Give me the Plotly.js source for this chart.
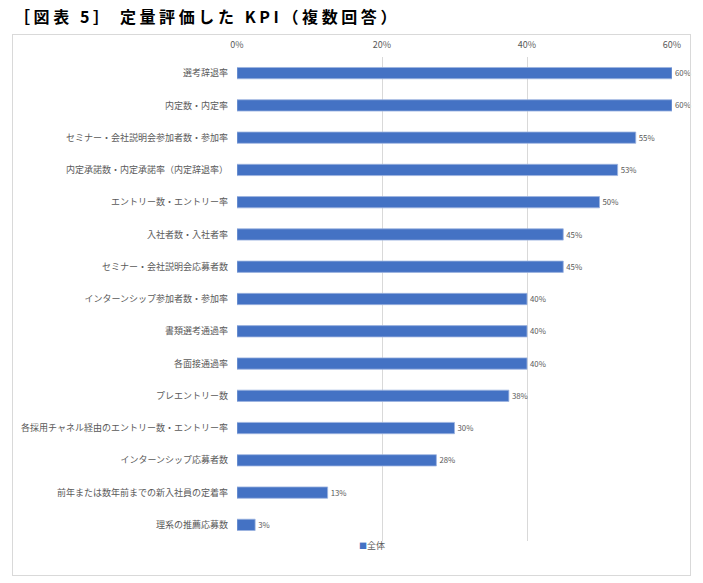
<!DOCTYPE html>
<html>
<head>
<meta charset="utf-8">
<script src="https://cdn.plot.ly/plotly-3.0.1.min.js"></script>
<style>
  html, body { margin: 0; padding: 0; background: #ffffff; }
  #chart { position: absolute; left: 0; top: 0; width: 703px; height: 583px; }
  #frame { position: absolute; left: 12px; top: 34px; width: 677px; height: 540px;
           border: 1px solid #d9d9d9; pointer-events: none; }
  .gtitle { letter-spacing: 3.6px; }
</style>
</head>
<body>
<div id="chart"></div>
<div id="frame"></div>
<script>
const categories = [
  "選考辞退率",
  "内定数・内定率",
  "セミナー・会社説明会参加者数・参加率",
  "内定承諾数・内定承諾率（内定辞退率）",
  "エントリー数・エントリー率",
  "入社者数・入社者率",
  "セミナー・会社説明会応募者数",
  "インターンシップ参加者数・参加率",
  "書類選考通過率",
  "各面接通過率",
  "プレエントリー数",
  "各採用チャネル経由のエントリー数・エントリー率",
  "インターンシップ応募者数",
  "前年または数年前までの新入社員の定着率",
  "理系の推薦応募数"
];
const values = [60, 60, 55, 52.5, 50, 45, 45, 40, 40, 40, 37.5, 30, 27.5, 12.5, 2.5];
const valueLabels = ["60%", "60%", "55%", "53%", "50%", "45%", "45%", "40%", "40%", "40%", "38%", "30%", "28%", "13%", "3%"];
const seriesName = "全体";
const xTicks = [0, 20, 40, 60];
const xTickLabels = ["0%", "20%", "40%", "60%"];
const titleText = "［図表 5］ 定量評価した KPI（複数回答）";

const font = "'Noto Sans CJK JP', 'Noto Sans', sans-serif";
const barColor = "#4472c4";

const trace = {
  type: "bar",
  orientation: "h",
  name: seriesName,
  x: values,
  y: categories,
  text: valueLabels,
  textposition: "outside",
  cliponaxis: false,
  textfont: { family: font, size: 9, color: "#595959" },
  marker: { color: barColor, line: { color: "#9db4e0", width: 0.8 } },
  hoverinfo: "x+y",
  showlegend: false
};

const layout = {
  width: 703,
  height: 583,
  margin: { l: 237, r: 31, t: 57, b: 42, pad: 0 },
  paper_bgcolor: "rgba(0,0,0,0)",
  plot_bgcolor: "rgba(0,0,0,0)",
  font: { family: font, size: 9, color: "#595959" },
  title: {
    text: "<b>" + titleText + "</b>",
    font: { family: font, size: 16, color: "#000000" },
    x: 14 / 703, xref: "container", xanchor: "left",
    y: 1 - 17 / 583, yref: "container", yanchor: "middle"
  },
  bargap: 0.65,
  xaxis: {
    side: "top",
    range: [0, 60],
    tickvals: xTicks,
    ticktext: xTickLabels,
    showgrid: true,
    gridcolor: "#d9d9d9",
    gridwidth: 1,
    zeroline: false,
    showline: false,
    ticks: "",
    ticklabelstandoff: 6,
    tickfont: { family: font, size: 9, color: "#595959" },
    fixedrange: true
  },
  yaxis: {
    type: "category",
    autorange: "reversed",
    showgrid: false,
    zeroline: false,
    showline: false,
    ticks: "",
    ticklabelstandoff: 8,
    tickfont: { family: font, size: 9, color: "#595959" },
    fixedrange: true
  },
  showlegend: false,
  annotations: [{
    xref: "paper", yref: "paper",
    x: (357 - 237) / 435, xanchor: "left",
    y: -(545 - 541) / 484, yanchor: "middle",
    showarrow: false,
    text: "<span style='color:" + barColor + ";font-size:8px'>■</span>" + seriesName,
    font: { family: font, size: 9, color: "#595959" }
  }]
};

Plotly.newPlot("chart", [trace], layout, { displayModeBar: false });
</script>
</body>
</html>
